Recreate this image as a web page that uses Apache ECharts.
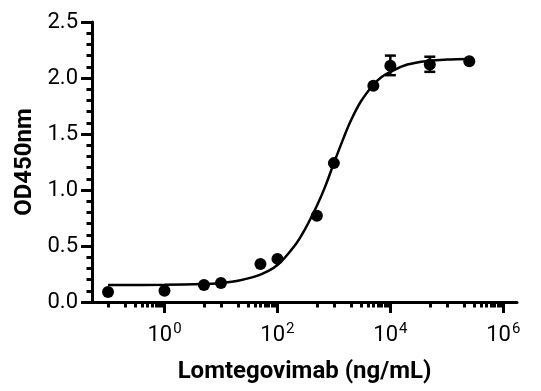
<!DOCTYPE html>
<html>
<head>
<meta charset="utf-8">
<script src="https://cdn.jsdelivr.net/npm/echarts@6/dist/echarts.min.js"></script>
<style>html,body{margin:0;padding:0;background:#fff}#c{width:541px;height:391px}</style>
</head>
<body>
<div id="c"></div>
<script>
// Measured data (Lomtegovimab ng/mL vs OD450nm)
const concentrations = [0.1, 1, 5, 10, 50, 100, 500, 1000, 5000, 10000, 50000, 250000];
const od450 = [0.09, 0.10, 0.152, 0.17, 0.34, 0.385, 0.77, 1.24, 1.93, 2.11, 2.12, 2.15];
const errLow = [null, null, null, null, null, null, null, null, null, 2.025, 2.055, null];
const errHigh = [null, null, null, null, null, null, null, null, null, 2.20, 2.19, null];
// Fitted curve
const curveX = [0.1, 1, 5, 10, 20, 50, 100, 200, 300, 500, 700, 1000, 1500, 2000, 3000, 5000, 7000, 10000, 20000, 50000, 100000, 250000];
const curveY = [0.152, 0.153, 0.16, 0.17, 0.19, 0.245, 0.33, 0.50, 0.64, 0.86, 1.03, 1.24, 1.47, 1.62, 1.79, 1.94, 2.01, 2.055, 2.12, 2.155, 2.165, 2.17];
// Axis ticks
const xMajorTicks = [1, 100, 10000, 1000000];
const xMinorTicks = [0.1,0.2,0.3,0.4,0.5,0.6,0.7,0.8,0.9,
  5,10,20,30,40,50,60,70,80,90,
  500,1000,2000,3000,4000,5000,6000,7000,8000,9000,
  50000,100000,200000,300000,400000,500000,600000,700000,800000,900000];
const xLabelExp = {1: '0', 100: '2', 10000: '4', 1000000: '6'};

const FONT = 'Roboto, "Liberation Sans", sans-serif';
const chart = echarts.init(document.getElementById('c'), null, {renderer: 'canvas'});
const pts = concentrations.map((c, i) => [c, od450[i]]);
const errs = concentrations.map((c, i) => [c, errLow[i], errHigh[i]]).filter(d => d[1] != null);
const curve = curveX.map((c, i) => [c, curveY[i]]);
const xMin = 0.052, xMax = 1.75e6;
const AX = {color: '#000', width: 3};

chart.setOption({
  animation: false,
  grid: {left: 92, right: 24, top: 22, bottom: 89},
  xAxis: [{
    type: 'log', logBase: 10, min: xMin, max: xMax, position: 'bottom',
    name: 'Lomtegovimab (ng/mL)', nameLocation: 'middle', nameGap: 58,
    nameTextStyle: {fontFamily: FONT, fontSize: 24, fontWeight: 'bold', color: '#000'},
    axisLine: {show: true, lineStyle: AX},
    axisTick: {show: true, length: 11, lineStyle: AX, customValues: xMajorTicks},
    axisLabel: {
      show: true, margin: 20, customValues: xMajorTicks,
      formatter: v => '{b|10}{s|' + (xLabelExp[Math.round(v)] ?? Math.round(Math.log10(v))) + '}',
      rich: {
        b: {fontFamily: FONT, fontSize: 22, color: '#000', lineHeight: 24, verticalAlign: 'bottom'},
        s: {fontFamily: FONT, fontSize: 15, color: '#000', lineHeight: 15, verticalAlign: 'top', padding: [0, 0, 0, 1]}
      }
    },
    splitLine: {show: false}
  }, {
    type: 'log', logBase: 10, min: xMin, max: xMax, position: 'bottom',
    axisLine: {show: false},
    axisTick: {show: true, length: 5.5, lineStyle: AX, customValues: xMinorTicks},
    axisLabel: {show: false},
    splitLine: {show: false}
  }],
  yAxis: {
    type: 'value', min: 0, max: 2.5, interval: 0.5,
    name: 'OD450nm', nameLocation: 'middle', nameGap: 54, nameRotate: 90,
    nameTextStyle: {fontFamily: FONT, fontSize: 24, fontWeight: 'bold', color: '#000'},
    axisLine: {show: true, lineStyle: AX},
    axisTick: {show: true, length: 11, lineStyle: AX},
    minorTick: {show: true, splitNumber: 5, length: 5.5, lineStyle: AX},
    axisLabel: {fontFamily: FONT, fontSize: 22, color: '#000', margin: 14, formatter: v => v.toFixed(1)},
    splitLine: {show: false}
  },
  series: [{
    type: 'line', data: curve, smooth: 0.35, showSymbol: false, symbol: 'none',
    lineStyle: {color: '#000', width: 2.5}, z: 2
  }, {
    type: 'custom', data: errs, z: 3,
    renderItem: (params, api) => {
      const x = api.value(0);
      const lo = api.coord([x, api.value(1)]);
      const hi = api.coord([x, api.value(2)]);
      const w = 5.5;
      const st = {stroke: '#000', lineWidth: 2.5};
      return {type: 'group', children: [
        {type: 'line', shape: {x1: lo[0], y1: lo[1], x2: hi[0], y2: hi[1]}, style: st},
        {type: 'line', shape: {x1: lo[0] - w, y1: lo[1], x2: lo[0] + w, y2: lo[1]}, style: st},
        {type: 'line', shape: {x1: hi[0] - w, y1: hi[1], x2: hi[0] + w, y2: hi[1]}, style: st}
      ]};
    }
  }, {
    type: 'scatter', data: pts, symbol: 'circle', symbolSize: 12,
    itemStyle: {color: '#000', opacity: 1}, z: 4
  }]
});
</script>
</body>
</html>
